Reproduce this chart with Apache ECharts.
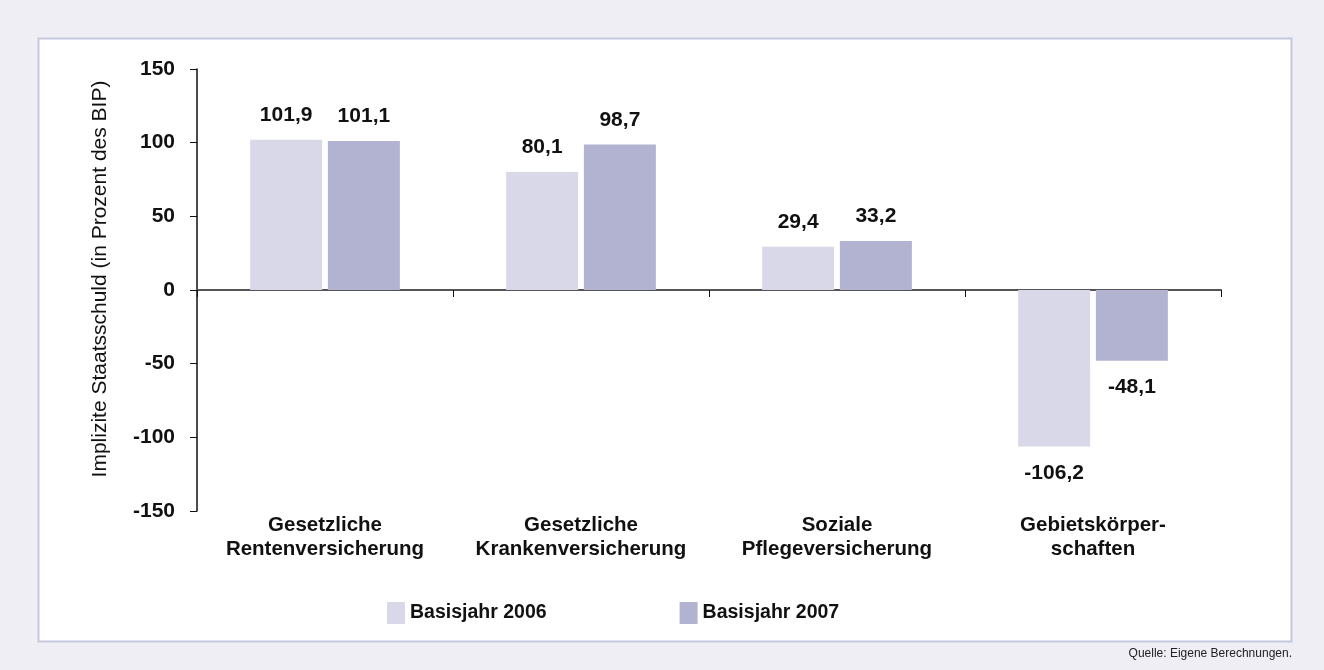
<!DOCTYPE html>
<html>
<head>
    <meta charset="utf-8">
    <title>Implizite Staatsschuld</title>
    <script src="https://cdn.jsdelivr.net/npm/echarts@6/dist/echarts.min.js"></script>
    <style>
        html, body { margin: 0; padding: 0; background: #efeef5; }
        #chart1 { width: 1324px; height: 670px; }
    </style>
</head>
<body>
<div id="chart1"></div>
<script>
    // Daten
    var categories = ['Gesetzliche\nRentenversicherung', 'Gesetzliche\nKrankenversicherung', 'Soziale\nPflegeversicherung', 'Gebietskörper-\nschaften'];
    var basis2006 = [101.9, 80.1, 29.4, -106.2];
    var basis2007 = [101.1, 98.7, 33.2, -48.1];
    var yTicks = [-150, -100, -50, 0, 50, 100, 150];

    var font = '"Liberation Sans", Arial, sans-serif';

    function komma(p) {
        return String(p.value.toFixed(1)).replace('.', ',');
    }

    function barLabel(v) {
        return {
            show: true,
            position: v < 0 ? 'bottom' : 'top',
            distance: v < 0 ? 16 : 14,
            formatter: komma,
            fontFamily: font,
            fontSize: 21,
            fontWeight: 'bold',
            color: '#111'
        };
    }

    function makeData(arr) {
        return arr.map(function (v) {
            return {value: v, label: barLabel(v)};
        });
    }

    var myChart1 = echarts.init(document.getElementById('chart1'));
    myChart1.setOption({
        animation: false,
        backgroundColor: '#efeef5',
        textStyle: {fontFamily: font},
        graphic: [
            {
                type: 'rect', z: -10,
                shape: {x: 38.5, y: 38.5, width: 1253, height: 603},
                style: {fill: '#ffffff', stroke: '#c6c7df', lineWidth: 2}
            },
            {
                type: 'text', right: 32, top: 648,
                style: {text: 'Quelle: Eigene Berechnungen.', fontFamily: font, fontSize: 12, fill: '#222'}
            }
        ],
        legend: {
            data: ['Basisjahr 2006', 'Basisjahr 2007'],
            left: 382, top: 597,
            itemWidth: 18, itemHeight: 22, itemGap: 133,
            icon: 'rect',
            textStyle: {fontFamily: font, fontSize: 19.5, fontWeight: 'bold', color: '#111'}
        },
        grid: {left: 197, right: 103, top: 69, bottom: 159},
        xAxis: [
            {
                type: 'category',
                data: categories,
                position: 'bottom',
                axisLine: {show: false, onZero: false},
                axisTick: {show: false},
                axisLabel: {
                    margin: 2, interval: 0, lineHeight: 24,
                    fontFamily: font, fontSize: 20.5, fontWeight: 'bold', color: '#111'
                }
            },
            {
                type: 'category',
                data: categories,
                position: 'bottom',
                axisLine: {show: true, onZero: true, lineStyle: {color: '#555', width: 2}},
                axisTick: {show: true, length: 7, lineStyle: {color: '#111', width: 1}},
                axisLabel: {show: false}
            }
        ],
        yAxis: {
            type: 'value',
            min: yTicks[0], max: yTicks[yTicks.length - 1], interval: 50,
            name: 'Implizite Staatsschuld (in Prozent des BIP)',
            nameLocation: 'middle', nameGap: 86,
            nameTextStyle: {fontFamily: font, fontSize: 21, color: '#111', padding: [0, 0, 0, 22]},
            axisLine: {show: true, lineStyle: {color: '#111', width: 1.5}},
            axisTick: {show: true, length: 7, lineStyle: {color: '#111'}},
            axisLabel: {margin: 22, fontFamily: font, fontSize: 21, fontWeight: 'bold', color: '#111'},
            splitLine: {show: false}
        },
        series: [
            {
                name: 'Basisjahr 2006',
                type: 'bar',
                barWidth: 72, barGap: '8%',
                itemStyle: {color: '#d9d8e8'},
                data: makeData(basis2006)
            },
            {
                name: 'Basisjahr 2007',
                type: 'bar',
                barWidth: 72, barGap: '8%',
                itemStyle: {color: '#b2b3d1'},
                data: makeData(basis2007)
            }
        ]
    });
</script>
</body>
</html>
